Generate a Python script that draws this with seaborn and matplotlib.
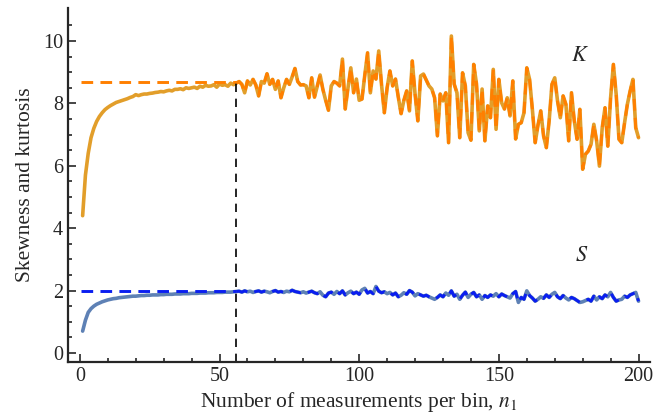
import numpy as np
import pandas as pd
import matplotlib
matplotlib.use("Agg")
import matplotlib.pyplot as plt
import seaborn as sns

# -----------------------------
# Data
# -----------------------------
n_values = list(range(1, 201))

# kurtosis, running estimate (solid line), n = 1..55
k_start = [4.40, 5.70, 6.40, 6.90, 7.20, 7.42, 7.58, 7.70, 7.80, 7.87,
           7.93, 7.98, 8.03, 8.06, 8.09, 8.12, 8.15, 8.19, 8.22, 8.28,
           8.25, 8.28, 8.30, 8.30, 8.32, 8.33, 8.35, 8.36, 8.38, 8.37,
           8.40, 8.42, 8.40, 8.45, 8.45, 8.47, 8.44, 8.50, 8.48, 8.50,
           8.52, 8.48, 8.55, 8.52, 8.58, 8.55, 8.56, 8.60, 8.52, 8.62,
           8.58, 8.60, 8.55, 8.65, 8.60]
# kurtosis, n = 56..200
k_noisy = [8.65, 8.70, 8.61, 8.34, 8.72, 8.59, 8.77, 8.59, 8.24, 8.70,
           8.65, 8.95, 8.61, 8.77, 8.45, 8.72, 8.18, 8.50, 8.77, 8.61,
           8.85, 9.12, 8.70, 8.59, 8.60, 8.56, 8.18, 8.82, 8.20, 8.55,
           8.91, 8.45, 8.10, 7.78, 8.56, 8.70, 8.65, 8.56, 9.42, 7.82,
           8.50, 9.14, 8.34, 8.78, 8.10, 8.14, 8.90, 9.62, 8.34, 9.04,
           8.78, 9.68, 8.60, 7.70, 8.50, 9.04, 8.56, 8.78, 8.20, 7.67,
           8.10, 8.40, 7.76, 9.36, 8.30, 7.44, 8.88, 8.94, 8.75, 8.56,
           8.46, 8.18, 6.96, 8.30, 8.08, 8.34, 6.74, 10.16, 8.62, 8.34,
           6.90, 8.98, 8.56, 7.06, 6.82, 9.25, 8.62, 7.12, 8.46, 6.80,
           7.92, 7.54, 9.09, 7.17, 8.77, 8.02, 7.82, 8.18, 7.60, 8.72,
           6.86, 7.33, 7.38, 7.70, 9.14, 8.77, 7.80, 6.74, 7.30, 7.76,
           6.96, 6.58, 7.44, 8.61, 8.82, 8.08, 7.54, 8.24, 7.97, 6.80,
           8.34, 7.44, 6.85, 7.81, 5.89, 6.37, 6.47, 6.69, 7.33, 6.80,
           5.99, 7.22, 7.86, 6.63, 8.18, 9.25, 8.29, 6.85, 6.74, 7.38,
           7.97, 8.40, 8.77, 7.22, 6.90]

# skewness, running estimate (solid line), n = 1..55
s_start = [0.70, 1.05, 1.30, 1.42, 1.50, 1.56, 1.60, 1.64, 1.67, 1.70,
           1.72, 1.74, 1.75, 1.77, 1.78, 1.79, 1.80, 1.81, 1.82, 1.82,
           1.83, 1.84, 1.84, 1.85, 1.85, 1.86, 1.86, 1.86, 1.87, 1.87,
           1.88, 1.88, 1.88, 1.89, 1.89, 1.89, 1.90, 1.90, 1.90, 1.91,
           1.91, 1.91, 1.92, 1.92, 1.92, 1.93, 1.93, 1.93, 1.94, 1.94,
           1.94, 1.95, 1.95, 1.95, 1.96]
# skewness, n = 56..200
s_noisy = [1.97, 1.98, 1.95, 1.99, 1.96, 1.98, 1.94, 1.97, 1.99, 1.95,
           1.98, 1.96, 1.93, 1.97, 2.00, 1.95, 1.97, 1.94, 1.98, 1.96,
           2.01, 1.97, 1.95, 1.93, 1.96, 1.92, 1.95, 1.98, 1.93, 1.90,
           1.96, 1.85, 1.80, 1.92, 1.95, 1.88, 1.97, 1.90, 1.99, 1.86,
           1.93, 1.98, 1.90, 1.95, 1.88, 2.02, 2.07, 1.92, 1.97, 1.90,
           2.13, 1.98, 1.93, 1.96, 1.90, 1.94, 1.86, 1.92, 1.80, 1.85,
           1.93, 1.88, 2.00, 1.95, 1.83, 1.90, 1.86, 1.82, 1.85, 1.80,
           1.76, 1.72, 1.78, 1.86, 1.80, 1.92, 1.85, 1.99, 1.82, 1.88,
           1.72, 1.85, 1.95, 1.78, 1.88, 1.94, 1.80, 1.86, 1.72, 1.84,
           1.78, 1.86, 1.82, 1.90, 1.80, 1.89, 1.84, 1.80, 1.76, 1.90,
           1.97, 1.62, 1.78, 1.72, 1.99, 1.84, 1.76, 1.66, 1.72, 1.80,
           1.75, 1.86, 1.78, 1.88, 1.94, 1.80, 1.74, 1.84, 1.76, 1.70,
           1.78, 1.74, 1.68, 1.62, 1.64, 1.68, 1.72, 1.66, 1.82, 1.70,
           1.80, 1.74, 1.86, 1.80, 1.94, 1.78, 1.66, 1.70, 1.72, 1.82,
           1.78, 1.86, 1.90, 1.94, 1.66]

k_plateau = 8.7     # dashed reference level for K
s_plateau = 2.0     # dashed reference level for S
n_cut = 56          # chosen bin size (vertical dashed line)

df = pd.DataFrame({
    "n": n_values,
    "K": k_start + k_noisy,
    "S": s_start + s_noisy,
})
late = df[df["n"] >= n_cut]

# -----------------------------
# Plot
# -----------------------------
sns.set_style("ticks")
plt.rcParams["font.family"] = ["Liberation Serif", "DejaVu Serif"]
plt.rcParams["mathtext.fontset"] = "stix"

fig = plt.figure(figsize=(6.65, 4.18), dpi=100)
ax = fig.add_axes([0.102, 0.134, 0.875, 0.847])

k_solid = "#E29E2A"
k_dash = "#FF7F00"
s_solid = "#5E81B5"
s_dash = "#0A1EF0"
dash = (0, (4, 2.5))

sns.lineplot(data=df, x="n", y="K", ax=ax, color=k_solid, lw=2.6)
sns.lineplot(data=df, x="n", y="S", ax=ax, color=s_solid, lw=2.6)
sns.lineplot(data=late, x="n", y="K", ax=ax, color=k_dash, lw=2.1,
             linestyle=dash)
sns.lineplot(data=late, x="n", y="S", ax=ax, color=s_dash, lw=2.1,
             linestyle=dash)
ax.hlines(k_plateau, 0.5, n_cut, color=k_dash, lw=2.1, linestyles=[dash])
ax.hlines(s_plateau, 0.5, n_cut, color=s_dash, lw=2.1, linestyles=[dash])
ax.vlines(n_cut, -0.3, df.loc[df["n"] == n_cut, "K"].iloc[0], color="black",
          lw=1.2, linestyles=[(0, (5, 4))])

ax.text(179, 9.5, "$K$", fontsize=16, ha="center", va="center")
ax.text(179.5, 3.1, "$S$", fontsize=16, ha="center", va="center")

ax.set_xlim(-4.3, 204)
ax.set_ylim(-0.29, 11.06)
ax.set_xticks([0, 50, 100, 150, 200])
ax.set_xticks(np.arange(0, 201, 10), minor=True)
ax.set_yticks([0, 2, 4, 6, 8, 10])
ax.set_yticks(np.arange(0, 11, 0.5), minor=True)
ax.tick_params(which="both", direction="in", labelsize=14.5, width=1.2)
ax.tick_params(which="major", length=6)
ax.tick_params(which="minor", length=3)
ax.set_xlabel("Number of measurements per bin, $n_1$", fontsize=15.5,
              labelpad=3)
ax.set_ylabel("Skewness and kurtosis", fontsize=15.5, labelpad=6)
for side in ["left", "bottom"]:
    ax.spines[side].set_linewidth(1.6)
sns.despine(ax=ax)

fig.savefig("out.png", dpi=100)
